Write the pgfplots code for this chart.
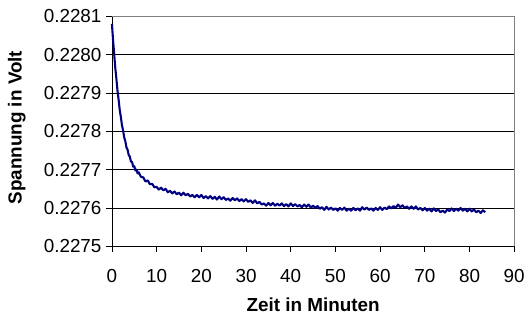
\documentclass[border=0pt]{standalone}
\usepackage{fontspec}
\setmainfont{Liberation Sans}
\usepackage{pgfplots}
\pgfplotsset{compat=1.18}
\definecolor{navyline}{RGB}{0,0,128}
\definecolor{bordergray}{RGB}{128,128,128}
\pgfplotstableread{
x y
0 0.228080
0.25 0.228038
0.5 0.228002
0.75 0.227965
1 0.227937
1.25 0.227905
1.5 0.227882
1.75 0.227855
2 0.227837
2.25 0.227815
2.5 0.227802
2.75 0.227784
3 0.227774
3.25 0.227758
3.5 0.227752
3.75 0.227738
4 0.227734
4.25 0.227721
4.5 0.227720
4.75 0.227708
5 0.227709
5.25 0.227698
5.5 0.227700
5.75 0.227690
6 0.227693
6.5 0.227681
7 0.227680
7.5 0.227669
8 0.227672
8.5 0.227662
9 0.227663
9.5 0.227654
10 0.227655
10.5 0.227648
11 0.227653
11.5 0.227646
12 0.227650
12.5 0.227641
13 0.227645
13.5 0.227638
14 0.227643
14.5 0.227636
15 0.227640
15.5 0.227633
16 0.227640
16.5 0.227633
17 0.227637
17.5 0.227630
18 0.227634
18.5 0.227628
19 0.227634
19.5 0.227628
20 0.227634
20.5 0.227626
21 0.227631
21.5 0.227625
22 0.227631
22.5 0.227624
23 0.227629
23.5 0.227622
24 0.227630
24.5 0.227623
25 0.227628
25.5 0.227621
26 0.227625
26.5 0.227619
27 0.227626
27.5 0.227620
28 0.227625
28.5 0.227618
29 0.227623
29.5 0.227617
30 0.227623
30.5 0.227616
31 0.227620
31.5 0.227613
32 0.227620
32.5 0.227612
33 0.227616
33.5 0.227609
34 0.227612
34.5 0.227606
35 0.227613
35.5 0.227607
36 0.227613
36.5 0.227606
37 0.227611
37.5 0.227606
38 0.227612
38.5 0.227605
39 0.227610
39.5 0.227604
40 0.227612
40.5 0.227605
41 0.227610
41.5 0.227604
42 0.227608
42.5 0.227602
43 0.227609
43.5 0.227603
44 0.227609
44.5 0.227601
45 0.227606
45.5 0.227600
46 0.227605
46.5 0.227598
47 0.227602
47.5 0.227595
48 0.227603
48.5 0.227596
49 0.227601
49.5 0.227595
50 0.227599
50.5 0.227593
51 0.227600
51.5 0.227595
52 0.227601
52.5 0.227593
53 0.227598
53.5 0.227593
54 0.227600
54.5 0.227594
55 0.227599
55.5 0.227593
56 0.227602
56.5 0.227596
57 0.227601
57.5 0.227595
58 0.227599
58.5 0.227593
59 0.227600
59.5 0.227595
60 0.227602
60.5 0.227595
61 0.227601
61.5 0.227597
62 0.227604
62.5 0.227599
63 0.227605
63.5 0.227600
64 0.227609
64.5 0.227602
65 0.227607
65.5 0.227600
66 0.227604
66.5 0.227598
67 0.227604
67.5 0.227598
68 0.227604
68.5 0.227596
69 0.227600
69.5 0.227594
70 0.227600
70.5 0.227593
71 0.227598
71.5 0.227591
72 0.227599
72.5 0.227592
73 0.227596
73.5 0.227589
74 0.227593
74.5 0.227588
75 0.227596
75.5 0.227592
76 0.227599
76.5 0.227592
77 0.227598
77.5 0.227593
78 0.227600
78.5 0.227593
79 0.227598
79.5 0.227591
80 0.227598
80.5 0.227591
81 0.227596
81.5 0.227589
82 0.227593
82.5 0.227587
83 0.227594
83.5 0.227589
}\voltdata
\begin{document}
\begin{tikzpicture}
\begin{axis}[
  name=ax,
  scale only axis,
  width=405bp, height=231.6bp,
  xmin=0, xmax=90, ymin=0.2275, ymax=0.2281,
  xtick={0,10,20,30,40,50,60,70,80,90},
  ytick={0.2275,0.2276,0.2277,0.2278,0.2279,0.2280,0.2281},
  scaled y ticks=false,
  yticklabel style={xshift=-1.5bp, /pgf/number format/.cd, fixed, fixed zerofill, precision=4},
  /pgf/number format/assume math mode=true,
  axis x line*=bottom, axis y line*=left,
  axis line style={black, line width=0.8bp, -},
  ymajorgrids,
  major grid style={black, line width=0.8bp},
  tick align=outside,
  major tick length=5.5bp,
  tick style={black, line width=0.8bp},
  ticklabel style={font=\fontsize{19bp}{22bp}\selectfont},
  xticklabel style={yshift=-14bp},
  label style={font=\fontsize{19bp}{23bp}\selectfont\bfseries},
  xlabel={Zeit in Minuten},
  ylabel={Spannung in Volt},
  xlabel style={at={(axis description cs:0.5,0)}, anchor=base, inner sep=0pt, yshift=-65.5bp},
  ylabel style={at={(axis description cs:0,0.516)}, anchor=south, inner sep=0pt, yshift=86.7bp},
  clip=false,
]
\addplot[navyline, line width=2.1bp, line join=round] table[x=x, y=y] {\voltdata};
\draw[bordergray, line width=1bp] (rel axis cs:0,1) -- (rel axis cs:1,1) -- (rel axis cs:1,0);
\end{axis}
\path ([shift={(-112.7bp,-69bp)}]ax.south west) rectangle ([shift={(10.5bp,16.4bp)}]ax.north east);
\end{tikzpicture}
\end{document}
